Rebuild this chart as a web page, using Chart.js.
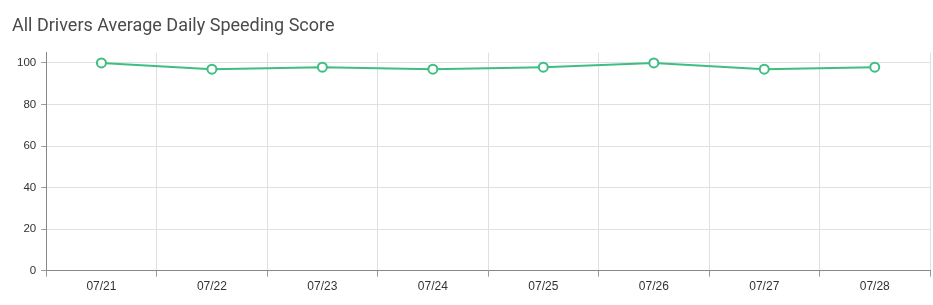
<!DOCTYPE html>
<html>
<head>
<meta charset="utf-8">
<script src="https://cdn.jsdelivr.net/npm/chart.js@4"></script>
<style>
html,body{margin:0;padding:0;background:#fff;}
#wrap{position:relative;width:933px;height:305px;}
</style>
</head>
<body>
<div id="wrap"><canvas id="c" width="933" height="305"></canvas></div>
<script>
const categories = ["07/21","07/22","07/23","07/24","07/25","07/26","07/27","07/28"];
const speedingScore = [100, 97, 98, 97, 98, 100, 97, 98];
const yTicks = [0, 20, 40, 60, 80, 100];
const chartTitle = "All Drivers Average Daily Speeding Score";

const green = "rgb(63,190,130)";
new Chart(document.getElementById("c"), {
  type: "line",
  data: {
    labels: categories,
    datasets: [{
      label: "Speeding Score",
      data: speedingScore,
      borderColor: green,
      backgroundColor: "#ffffff",
      pointBackgroundColor: "#ffffff",
      pointBorderColor: green,
      pointBorderWidth: 2,
      pointRadius: 4.5,
      borderWidth: 2,
      tension: 0,
      fill: false
    }]
  },
  options: {
    responsive: false,
    animation: false,
    layout: { autoPadding: false, padding: { left: 12, right: 3, top: 0, bottom: 8 } },
    plugins: {
      legend: { display: false },
      tooltip: { enabled: false },
      title: {
        display: true,
        text: chartTitle,
        align: "start",
        color: "#4a4a4a",
        font: { family: "Roboto", size: 18, weight: "normal" },
        padding: { top: 16, bottom: 15 }
      }
    },
    scales: {
      x: {
        offset: true,
        grid: { offset: true, color: "#e0e0e0", tickColor: "#999", tickLength: 6, drawTicks: true },
        border: { color: "#888", width: 1 },
        ticks: { color: "#333", font: { family: "Liberation Sans", size: 12 }, padding: 3, maxRotation: 0 }
      },
      y: {
        min: 0,
        max: 105,
        grid: { color: "#e0e0e0", tickColor: "#999", tickLength: 5 },
        border: { color: "#888", width: 1 },
        ticks: { stepSize: 20, color: "#333", font: { family: "Liberation Sans", size: 11.5 }, padding: 5 },
        afterBuildTicks: axis => { axis.ticks = yTicks.map(v => ({ value: v })); }
      }
    }
  }
});
</script>
</body>
</html>
